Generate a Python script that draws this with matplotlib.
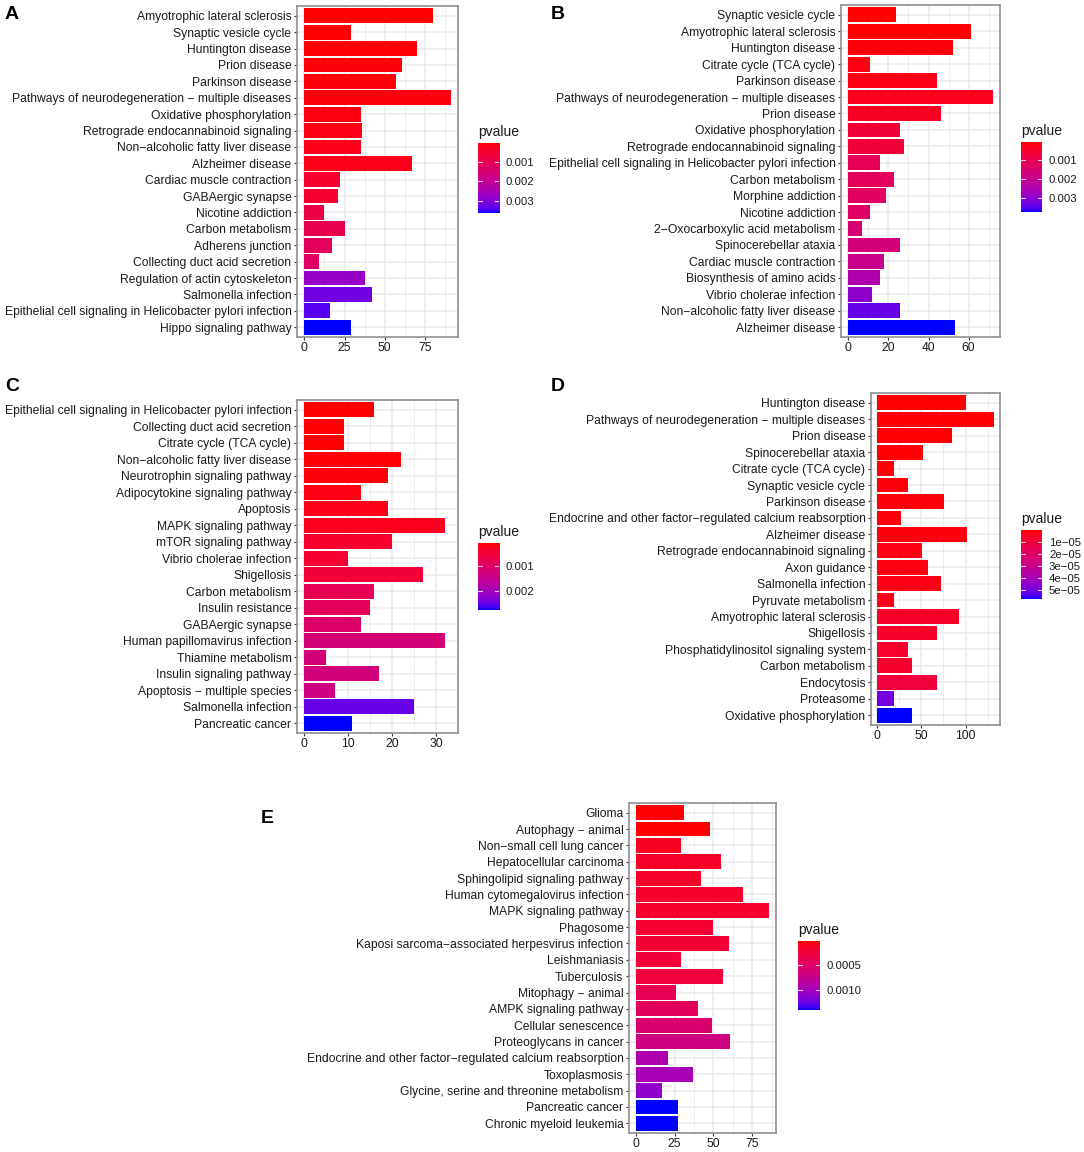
import numpy as np
import matplotlib
matplotlib.use("Agg")
import matplotlib.pyplot as plt
from matplotlib.colors import ListedColormap, Normalize

plt.rcParams['font.family'] = ['Liberation Sans', 'DejaVu Sans']

W, H = 1084, 1152

# ---------------- data ----------------
cats_A = ["Amyotrophic lateral sclerosis", "Synaptic vesicle cycle", "Huntington disease",
          "Prion disease", "Parkinson disease", "Pathways of neurodegeneration − multiple diseases",
          "Oxidative phosphorylation", "Retrograde endocannabinoid signaling",
          "Non−alcoholic fatty liver disease", "Alzheimer disease", "Cardiac muscle contraction",
          "GABAergic synapse", "Nicotine addiction", "Carbon metabolism", "Adherens junction",
          "Collecting duct acid secretion", "Regulation of actin cytoskeleton",
          "Salmonella infection", "Epithelial cell signaling in Helicobacter pylori infection",
          "Hippo signaling pathway"]
count_A = [80, 29, 70, 61, 57, 91, 35, 36, 35, 67, 22, 21, 12, 25, 17, 9, 38, 42, 16, 29]
pval_A = [0.000005, 0.000016, 0.000041, 0.000060, 0.000078, 0.000096, 0.000132, 0.000150,
          0.000169, 0.000187, 0.000441, 0.000478, 0.000805, 0.000877, 0.001096, 0.001205,
          0.002768, 0.003204, 0.003386, 0.00364]
xticks_A = [0, 25, 50, 75]
cbticks_A = [0.001, 0.002, 0.003]
cblabels_A = ["0.001", "0.002", "0.003"]

cats_B = ["Synaptic vesicle cycle", "Amyotrophic lateral sclerosis", "Huntington disease",
          "Citrate cycle (TCA cycle)", "Parkinson disease",
          "Pathways of neurodegeneration − multiple diseases", "Prion disease",
          "Oxidative phosphorylation", "Retrograde endocannabinoid signaling",
          "Epithelial cell signaling in Helicobacter pylori infection", "Carbon metabolism",
          "Morphine addiction", "Nicotine addiction", "2−Oxocarboxylic acid metabolism",
          "Spinocerebellar ataxia", "Cardiac muscle contraction", "Biosynthesis of amino acids",
          "Vibrio cholerae infection", "Non−alcoholic fatty liver disease", "Alzheimer disease"]
count_B = [24, 61, 52, 11, 44, 72, 46, 26, 28, 16, 23, 19, 11, 7, 26, 18, 16, 12, 26, 53]
pval_B = [0.00002, 0.000039, 0.000094, 0.000131, 0.000168, 0.000243, 0.000317, 0.000577,
          0.000614, 0.001059, 0.001133, 0.001207, 0.001244, 0.001504, 0.001615, 0.001875,
          0.002432, 0.002951, 0.003359, 0.00373]
xticks_B = [0, 20, 40, 60]
cbticks_B = [0.001, 0.002, 0.003]
cblabels_B = ["0.001", "0.002", "0.003"]

cats_C = ["Epithelial cell signaling in Helicobacter pylori infection",
          "Collecting duct acid secretion", "Citrate cycle (TCA cycle)",
          "Non−alcoholic fatty liver disease", "Neurotrophin signaling pathway",
          "Adipocytokine signaling pathway", "Apoptosis", "MAPK signaling pathway",
          "mTOR signaling pathway", "Vibrio cholerae infection", "Shigellosis",
          "Carbon metabolism", "Insulin resistance", "GABAergic synapse",
          "Human papillomavirus infection", "Thiamine metabolism", "Insulin signaling pathway",
          "Apoptosis − multiple species", "Salmonella infection", "Pancreatic cancer"]
count_C = [16, 9, 9, 22, 19, 13, 19, 32, 20, 10, 27, 16, 15, 13, 32, 5, 17, 7, 25, 11]
pval_C = [0.00004, 0.000048, 0.000057, 0.000068, 0.000081, 0.000123, 0.000178, 0.000206,
          0.000371, 0.000399, 0.000454, 0.000813, 0.000868, 0.001034, 0.001199, 0.001254,
          0.001282, 0.001337, 0.002524, 0.0028]
xticks_C = [0, 10, 20, 30]
cbticks_C = [0.001, 0.002]
cblabels_C = ["0.001", "0.002"]

cats_D = ["Huntington disease", "Pathways of neurodegeneration − multiple diseases",
          "Prion disease", "Spinocerebellar ataxia", "Citrate cycle (TCA cycle)",
          "Synaptic vesicle cycle", "Parkinson disease",
          "Endocrine and other factor−regulated calcium reabsorption", "Alzheimer disease",
          "Retrograde endocannabinoid signaling", "Axon guidance", "Salmonella infection",
          "Pyruvate metabolism", "Amyotrophic lateral sclerosis", "Shigellosis",
          "Phosphatidylinositol signaling system", "Carbon metabolism", "Endocytosis",
          "Proteasome", "Oxidative phosphorylation"]
count_D = [100, 132, 85, 52, 19, 35, 76, 27, 101, 51, 57, 72, 19, 93, 68, 35, 39, 68, 19, 40]
pval_D = [2.0e-7, 3.2e-7, 4.5e-7, 6.0e-7, 7.5e-7, 9.0e-7, 1.2e-6, 1.45e-6, 1.6e-6,
          1.8e-6, 2.0e-6, 2.3e-6, 2.6e-6, 5.4e-6, 6.0e-6, 6.1e-6, 6.6e-6, 1.0e-5,
          5.0e-5, 5.76e-5]
xticks_D = [0, 50, 100]
cbticks_D = [1e-5, 2e-5, 3e-5, 4e-5, 5e-5]
cblabels_D = ["1e−05", "2e−05", "3e−05", "4e−05", "5e−05"]

cats_E = ["Glioma", "Autophagy − animal", "Non−small cell lung cancer",
          "Hepatocellular carcinoma", "Sphingolipid signaling pathway",
          "Human cytomegalovirus infection", "MAPK signaling pathway", "Phagosome",
          "Kaposi sarcoma−associated herpesvirus infection", "Leishmaniasis", "Tuberculosis",
          "Mitophagy − animal", "AMPK signaling pathway", "Cellular senescence",
          "Proteoglycans in cancer", "Endocrine and other factor−regulated calcium reabsorption",
          "Toxoplasmosis", "Glycine, serine and threonine metabolism", "Pancreatic cancer",
          "Chronic myeloid leukemia"]
count_E = [31, 48, 29, 55, 42, 69, 86, 50, 60, 29, 56, 26, 40, 49, 61, 21, 37, 17, 27, 27]
pval_E = [2.7e-5, 3.4e-5, 1.23e-4, 1.51e-4, 1.64e-4, 1.78e-4, 1.92e-4, 2.05e-4, 2.19e-4,
          2.33e-4, 2.60e-4, 4.11e-4, 4.53e-4, 5.49e-4, 6.72e-4, 9.33e-4, 9.74e-4, 1.112e-3,
          1.40e-3, 1.40e-3]
xticks_E = [0, 25, 50, 75]
cbticks_E = [0.0005, 0.0010]
cblabels_E = ["0.0005", "0.0010"]

# ---------------- colour scale (red -> blue, CIELAB interpolation) ----------------
_M = np.array([[0.4124564, 0.3575761, 0.1804375],
               [0.2126729, 0.7151522, 0.0721750],
               [0.0193339, 0.1191920, 0.9503041]])
_WHITE = np.array([0.95047, 1.0, 1.08883])


def srgb_to_lab(rgb):
    rgb = np.asarray(rgb, float)
    lin = np.where(rgb <= 0.04045, rgb / 12.92, ((rgb + 0.055) / 1.055) ** 2.4)
    r = (_M @ lin) / _WHITE
    f = np.where(r > 216 / 24389, np.cbrt(r), (24389 / 27 * r + 16) / 116)
    return np.array([116 * f[1] - 16, 500 * (f[0] - f[1]), 200 * (f[1] - f[2])])


def lab_to_srgb(lab):
    L, a, b = lab
    fy = (L + 16) / 116
    fx = fy + a / 500
    fz = fy - b / 200
    f = np.array([fx, fy, fz])
    r = np.where(f ** 3 > 216 / 24389, f ** 3, (116 * f - 16) / (24389 / 27))
    lin = np.linalg.inv(_M) @ (r * _WHITE)
    lin = np.clip(lin, 0, 1)
    rgb = np.where(lin <= 0.0031308, 12.92 * lin, 1.055 * lin ** (1 / 2.4) - 0.055)
    return np.clip(rgb, 0, 1)


lab_lo = srgb_to_lab([1, 0, 0])
lab_hi = srgb_to_lab([0, 0, 1])
cmap = ListedColormap([lab_to_srgb(lab_lo + t * (lab_hi - lab_lo)) for t in np.linspace(0, 1, 256)])

# ---------------- figure ----------------
fig = plt.figure(figsize=(W / 100, H / 100), dpi=100)


def px_rect(x0, y0, x1, y1):
    return [x0 / W, 1 - y1 / H, (x1 - x0) / W, (y1 - y0) / H]


GRID = '#EBEBEB'
BORDER = '#8F8F8F'
TXT = '#1A1A1A'
FS = 8.7
FS_CB = 8.2


def panel(rect, cats, counts, pvals, xticks, cb_rect, cbticks, cblabels, letter, letter_xy):
    ax = fig.add_axes(px_rect(*rect))
    n = len(cats)
    y = np.arange(n)[::-1]
    norm = Normalize(min(pvals), max(pvals))
    ax.barh(y, counts, height=0.9, color=cmap(norm(np.array(pvals))), zorder=3)
    mx = max(counts)
    ax.set_xlim(-0.05 * mx, 1.05 * mx)
    ax.set_ylim(-0.6, n - 0.4)
    ax.set_yticks(y)
    ax.set_yticklabels(cats)
    ax.set_xticks(xticks)
    step = xticks[1] - xticks[0]
    minors = [t + step / 2 for t in xticks]
    ax.set_xticks(minors, minor=True)
    ax.grid(which='major', color=GRID, lw=1.1, zorder=0)
    ax.grid(which='minor', axis='x', color=GRID, lw=0.6, zorder=0)
    ax.tick_params(which='minor', length=0)
    ax.tick_params(which='major', length=2.5, width=0.8, color='#333333', labelsize=FS,
                   labelcolor=TXT, pad=1.5)
    ax.tick_params(axis='x', pad=1.0)
    for s in ax.spines.values():
        s.set_color(BORDER)
        s.set_linewidth(1.2)
    ax.set_axisbelow(True)

    cax = fig.add_axes(px_rect(*cb_rect))
    pmin, pmax = min(pvals), max(pvals)
    grad = np.linspace(pmin, pmax, 300).reshape(-1, 1)
    cax.imshow(grad, aspect='auto', cmap=cmap, norm=norm, extent=[0, 1, pmax, pmin],
               interpolation='bilinear')
    cax.set_xlim(0, 1)
    cax.set_ylim(pmax, pmin)
    cax.set_xticks([])
    cax.yaxis.tick_right()
    cax.set_yticks(cbticks)
    cax.set_yticklabels(cblabels)
    cax.tick_params(length=0, labelsize=FS_CB, labelcolor=TXT, pad=5)
    for t in cbticks:
        cax.plot([0, 0.2], [t, t], color='white', lw=0.8, alpha=0.8)
        cax.plot([0.8, 1.0], [t, t], color='white', lw=0.8, alpha=0.8)
    for s in cax.spines.values():
        s.set_visible(False)
    fig.text(cb_rect[0] / W, 1 - (cb_rect[1] - 4) / H, "pvalue", fontsize=10,
             color=TXT, ha='left', va='bottom')

    fig.text(letter_xy[0] / W, 1 - letter_xy[1] / H, letter, fontsize=14, fontweight='bold',
             ha='left', va='top', color='black')


panel((297, 6, 458, 337), cats_A, count_A, pval_A, xticks_A,
      (478, 143, 499, 213), cbticks_A, cblabels_A, "A", (5, 6))
panel((841, 5, 1000, 337), cats_B, count_B, pval_B, xticks_B,
      (1021, 142, 1042, 212), cbticks_B, cblabels_B, "B", (551, 6))
panel((297, 400, 458, 733), cats_C, count_C, pval_C, xticks_C,
      (478, 543, 499, 610), cbticks_C, cblabels_C, "C", (5, 378))
panel((871, 393, 1000, 725), cats_D, count_D, pval_D, xticks_D,
      (1021, 530, 1042, 599), cbticks_D, cblabels_D, "D", (551, 378))
panel((629, 803, 776, 1133), cats_E, count_E, pval_E, xticks_E,
      (798, 941, 820, 1010), cbticks_E, cblabels_E, "E", (261, 810))

fig.savefig("out.png", dpi=100, facecolor='white')
